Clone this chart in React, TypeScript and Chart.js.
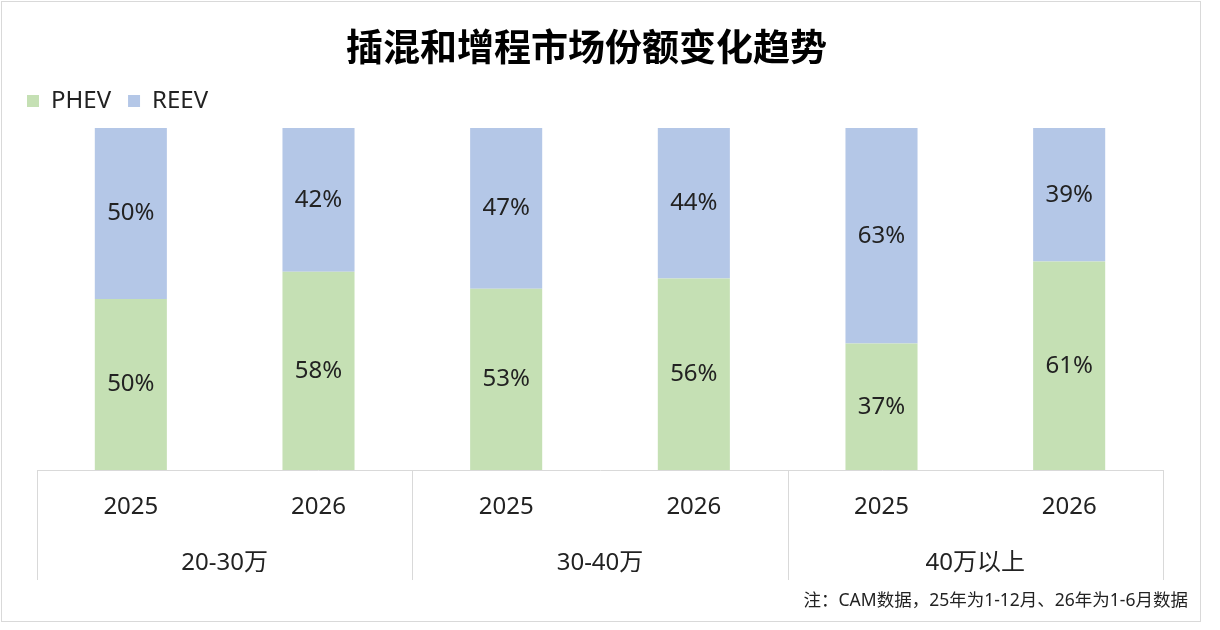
import { useEffect, useRef } from 'react';
import { Chart, registerables } from 'chart.js';

Chart.register(...registerables);

const years = ['2025', '2026', '2025', '2026', '2025', '2026'];
const priceGroups = ['20-30万', '30-40万', '40万以上'];
const phevShare = [50, 58, 53, 56, 37, 61];
const reevShare = [50, 42, 47, 44, 63, 39];

const title = '插混和增程市场份额变化趋势';
const note = '注：CAM数据，25年为1-12月、26年为1-6月数据';

const FONT = "'Noto Sans', 'Noto Sans CJK SC', sans-serif";
const TEXT = '#222';
const LINE = '#d9d9d9';

// percent labels in the middle of each stacked segment
const segmentLabels = {
  id: 'segmentLabels',
  afterDatasetsDraw(chart: Chart) {
    const { ctx } = chart;
    ctx.save();
    ctx.font = `24px ${FONT}`;
    ctx.fillStyle = TEXT;
    ctx.textAlign = 'center';
    ctx.textBaseline = 'middle';
    chart.data.datasets.forEach((ds, i) => {
      const meta = chart.getDatasetMeta(i);
      meta.data.forEach((bar: any, j) => {
        const mid = (bar.y + bar.base) / 2;
        ctx.fillText(`${ds.data[j]}%`, bar.x, mid);
      });
    });
    ctx.restore();
  },
};

// vertical separators of the two-level category table + footnote
const tableLines = {
  id: 'tableLines',
  afterInit(chart: any) {
    // leave a little room between legend and bars
    const lg = chart.legend;
    if (lg) {
      const fit = lg.fit.bind(lg);
      lg.fit = () => {
        fit();
        lg.height += 5;
      };
    }
  },
  afterDraw(chart: any) {
    const { ctx } = chart;
    const x = chart.scales.x;
    const n = years.length;
    const edge = (i: number) => {
      if (i === 0) return x.left;
      if (i === n) return x.right;
      return (x.getPixelForValue(i - 1) + x.getPixelForValue(i)) / 2;
    };
    ctx.save();
    ctx.strokeStyle = LINE;
    ctx.lineWidth = 1;
    for (let i = 0; i <= n; i += 2) {
      const px = Math.round(edge(i)) + 0.5;
      ctx.beginPath();
      ctx.moveTo(px, x.top);
      ctx.lineTo(px, x.top + 110);
      ctx.stroke();
    }
    ctx.font = `17.5px ${FONT}`;
    ctx.fillStyle = TEXT;
    ctx.textAlign = 'right';
    ctx.textBaseline = 'middle';
    ctx.fillText(note, chart.width - 32, 601);
    ctx.restore();
  },
};

export default function App() {
  const canvasRef = useRef<HTMLCanvasElement | null>(null);
  const chartRef = useRef<Chart | null>(null);

  useEffect(() => {
    const ctx = canvasRef.current!.getContext('2d')!;
    if (chartRef.current) {
      chartRef.current.destroy();
      chartRef.current = null;
    }

    chartRef.current = new Chart(ctx, {
      type: 'bar',
      data: {
        labels: years,
        datasets: [
          {
            label: 'PHEV',
            data: phevShare,
            backgroundColor: '#c5e0b4',
            borderWidth: 0,
            barPercentage: 0.384,
            categoryPercentage: 1,
          },
          {
            label: 'REEV',
            data: reevShare,
            backgroundColor: '#b4c7e7',
            borderWidth: 0,
            barPercentage: 0.384,
            categoryPercentage: 1,
          },
        ],
      },
      options: {
        responsive: true,
        maintainAspectRatio: false,
        animation: false,
        layout: { padding: { top: 8, left: 10, right: 57, bottom: 48 } },
        plugins: {
          title: {
            display: true,
            text: title,
            color: '#000',
            font: { family: "'Noto Sans CJK SC', sans-serif", size: 37, weight: 'bold' },
            padding: { top: 16.8, bottom: 2.8 },
          },
          legend: {
            display: true,
            position: 'top',
            align: 'start',
            labels: {
              boxWidth: 12,
              boxHeight: 12,
              padding: 17,
              color: TEXT,
              font: { family: FONT, size: 24 },
            },
          },
          tooltip: { enabled: false },
        },
        scales: {
          x: {
            stacked: true,
            grid: { display: false, drawTicks: false },
            border: { display: true, color: LINE, width: 1 },
            ticks: {
              color: TEXT,
              font: { family: FONT, size: 24 },
              padding: 22.6,
              maxRotation: 0,
              autoSkip: false,
            },
          },
          x2: {
            type: 'category',
            labels: priceGroups,
            position: 'bottom',
            offset: true,
            grid: { display: false, drawTicks: false },
            border: { display: false },
            ticks: {
              color: TEXT,
              font: { family: FONT, size: 24 },
              padding: 4.6,
              maxRotation: 0,
              autoSkip: false,
            },
          },
          y: {
            stacked: true,
            min: 0,
            max: 100,
            grid: { display: false, drawTicks: false },
            border: { display: false },
            ticks: { display: false },
            afterFit: (scale: any) => {
              scale.width = 27;
            },
          },
        },
      },
      plugins: [segmentLabels, tableLines],
    });

    return () => {
      if (chartRef.current) {
        chartRef.current.destroy();
        chartRef.current = null;
      }
    };
  }, []);

  return (
    <div style={{ position: 'absolute', left: 0, top: 0, width: 1220, height: 630, background: '#fff' }}>
      <div
        style={{
          position: 'absolute',
          left: 1,
          top: 1,
          width: 1200,
          height: 621,
          border: `1px solid ${LINE}`,
          boxSizing: 'border-box',
        }}
      />
      <canvas ref={canvasRef} style={{ position: 'absolute', left: 0, top: 0, width: '100%', height: '100%' }} />
    </div>
  );
}
